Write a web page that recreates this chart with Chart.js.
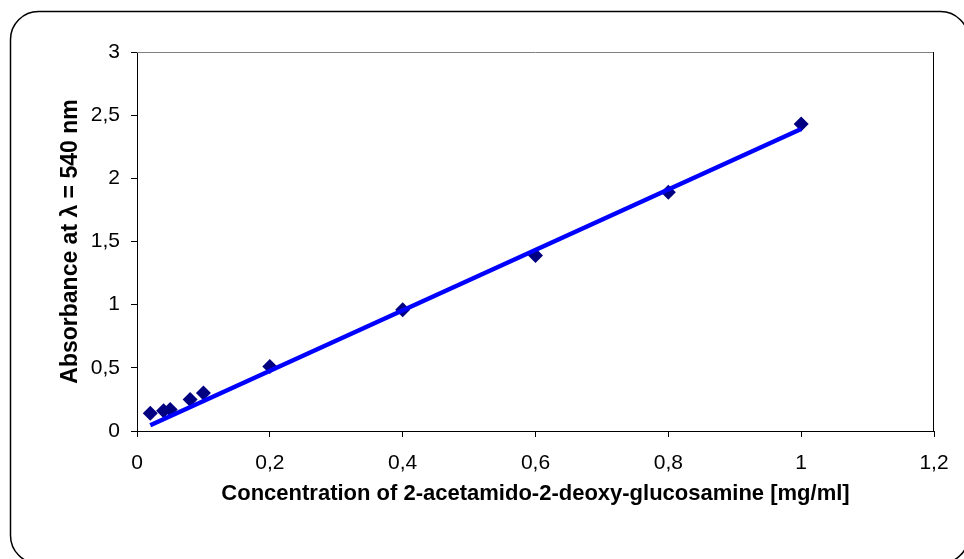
<!DOCTYPE html>
<html>
<head>
<meta charset="utf-8">
<title>Absorbance vs concentration</title>
<script src="https://cdn.jsdelivr.net/npm/chart.js@4.4.1/dist/chart.umd.min.js"></script>
<style>
  html, body { margin: 0; padding: 0; background: #fff; }
  #wrap { width: 964px; height: 559px; }
</style>
</head>
<body>
<div id="wrap"><canvas id="grafico" width="964" height="559"></canvas></div>
<script>
// ---------- Dados ----------
const concentracoes = [0.02, 0.04, 0.05, 0.08, 0.1, 0.2, 0.4, 0.6, 0.8, 1.0];
const absorbancias  = [0.14, 0.16, 0.17, 0.25, 0.30, 0.51, 0.96, 1.39, 1.89, 2.43];
// reta de calibração (início e fim)
const retaX = [0.02, 1.0];
const retaY = [0.045, 2.39];
const ticksX = [0, 0.2, 0.4, 0.6, 0.8, 1, 1.2];
const ticksY = [0, 0.5, 1, 1.5, 2, 2.5, 3];

const fmt = (v) => String(v).replace('.', ',');
const FONT = '"Liberation Sans", Arial, sans-serif';

// moldura arredondada + borda da área do gráfico
const moldura = {
  id: 'moldura',
  beforeDraw(chart){
    const ctx = chart.ctx;
    ctx.save();
    ctx.fillStyle = '#fff';
    ctx.fillRect(0, 0, chart.width, chart.height);
    ctx.strokeStyle = '#000';
    ctx.lineWidth = 1.5;
    ctx.beginPath();
    ctx.roundRect(10.5, 11.5, 958, 552, 28);
    ctx.stroke();
    ctx.restore();
  },
  beforeDatasetsDraw(chart){
    const {ctx, chartArea: a} = chart;
    ctx.save();
    ctx.lineWidth = 1;
    ctx.strokeStyle = '#808080';
    ctx.beginPath();
    ctx.moveTo(a.left, a.top + 0.5);
    ctx.lineTo(a.right, a.top + 0.5);
    ctx.stroke();
    ctx.strokeStyle = '#000';
    ctx.beginPath();
    ctx.moveTo(a.right - 0.5, a.top);
    ctx.lineTo(a.right - 0.5, a.bottom);
    ctx.stroke();
    ctx.restore();
  }
};

const config = {
  type: 'scatter',
  data: {
    datasets: [
      {
        label: 'Reta',
        data: retaX.map((x, i) => ({ x, y: retaY[i] })),
        showLine: true,
        borderColor: '#0000ff',
        borderWidth: 4.5,
        pointRadius: 0,
        order: 0
      },
      {
        label: 'Absorbância',
        data: concentracoes.map((x, i) => ({ x, y: absorbancias[i] })),
        pointStyle: 'rectRot',
        pointRadius: 7.5,
        pointBackgroundColor: '#000080',
        pointBorderColor: '#000080',
        pointBorderWidth: 0,
        order: 1
      }
    ]
  },
  options: {
    responsive: false,
    animation: false,
    layout: { padding: { top: 52, right: 30, left: 0, bottom: 0 } },
    plugins: { legend: { display: false }, tooltip: { enabled: false } },
    scales: {
      x: {
        type: 'linear',
        min: 0, max: 1.2,
        afterFit: (s) => { s.height = 128; },
        afterBuildTicks: (s) => { s.ticks = ticksX.map(v => ({ value: v })); },
        grid: { drawOnChartArea: false, drawTicks: true, tickLength: 6, color: '#000' },
        border: { color: '#000', width: 1 },
        ticks: { color: '#000', padding: 14, maxRotation: 0, font: { family: FONT, size: 21 }, callback: (v) => fmt(v) },
        title: {
          display: true,
          text: 'Concentration of 2-acetamido-2-deoxy-glucosamine [mg/ml]',
          color: '#000',
          font: { family: FONT, size: 22, weight: 'bold' },
          padding: { top: 0, bottom: 52 }
        }
      },
      y: {
        type: 'linear',
        min: 0, max: 3,
        afterFit: (s) => { s.width = 137; },
        afterBuildTicks: (s) => { s.ticks = ticksY.map(v => ({ value: v })); },
        grid: { drawOnChartArea: false, drawTicks: true, tickLength: 6, color: '#000' },
        border: { color: '#000', width: 1 },
        ticks: { color: '#000', padding: 11, font: { family: FONT, size: 21 }, callback: (v) => fmt(v) },
        title: {
          display: true,
          text: 'Absorbance at λ = 540 nm',
          color: '#000',
          font: { family: FONT, size: 23, weight: 'bold' },
          padding: { top: 57, bottom: 0 }
        }
      }
    }
  },
  plugins: [moldura]
};

new Chart(document.getElementById('grafico'), config);
</script>
</body>
</html>
